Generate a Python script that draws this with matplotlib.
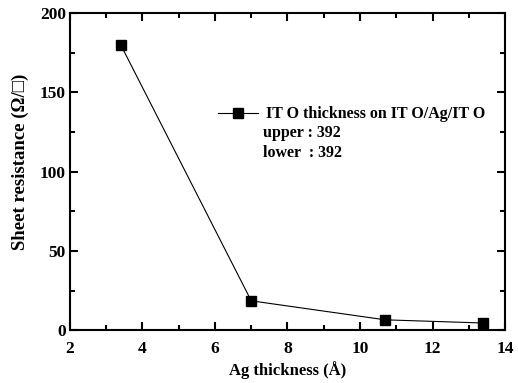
import matplotlib
matplotlib.use("Agg")
import matplotlib.pyplot as plt
from matplotlib.ticker import MultipleLocator

ag_thickness = [3.4, 7.0, 10.7, 13.4]
sheet_res = [180, 18.5, 6.5, 4.5]
legend_label = "IT O thickness on IT O/Ag/IT O"
extra_lines = ["upper : 392", "lower  : 392"]

plt.rcParams['font.family'] = ['Liberation Serif', 'DejaVu Serif']
plt.rcParams['font.weight'] = 'bold'

fig = plt.figure(figsize=(5.18, 3.83), dpi=100)
ax = fig.add_axes([0.135, 0.138, 0.840, 0.828])
ax.plot(ag_thickness, sheet_res, color='black', lw=0.8, marker='s', ms=7,
        label=legend_label)
ax.set_xlim(2, 14)
ax.set_ylim(0, 200)
ax.xaxis.set_major_locator(MultipleLocator(2))
ax.xaxis.set_minor_locator(MultipleLocator(1))
ax.yaxis.set_major_locator(MultipleLocator(50))
ax.yaxis.set_minor_locator(MultipleLocator(25))
ax.tick_params(which='both', direction='in', top=True, right=True, labelsize=12.5, width=1.5)
ax.tick_params(which='major', length=6)
ax.tick_params(which='minor', length=3.5)
ax.tick_params(axis='x', pad=8)
ax.tick_params(axis='y', pad=3)
for s in ax.spines.values():
    s.set_linewidth(1.5)
for lab in ax.get_xticklabels() + ax.get_yticklabels():
    lab.set_fontweight('bold')
ax.set_xlabel("Ag thickness (Å)", fontsize=12, fontweight='bold')
ax.xaxis.set_label_coords(0.5, -0.098)
ax.set_ylabel("Sheet resistance (Ω/□)", fontsize=13.5, fontweight='bold')
ax.yaxis.set_label_coords(-0.093, 0.53)
leg = ax.legend(loc='center left', bbox_to_anchor=(0.34, 0.681), frameon=False,
                prop={'weight': 'bold', 'size': 11.5}, handlelength=2.5,
                handletextpad=0.5, borderaxespad=0, borderpad=0)
ax.text(0.443, 0.621, extra_lines[0], transform=ax.transAxes, fontsize=11.5,
        fontweight='bold', va='center')
ax.text(0.443, 0.558, extra_lines[1], transform=ax.transAxes, fontsize=11.5,
        fontweight='bold', va='center')
fig.savefig("out.png", dpi=100)
